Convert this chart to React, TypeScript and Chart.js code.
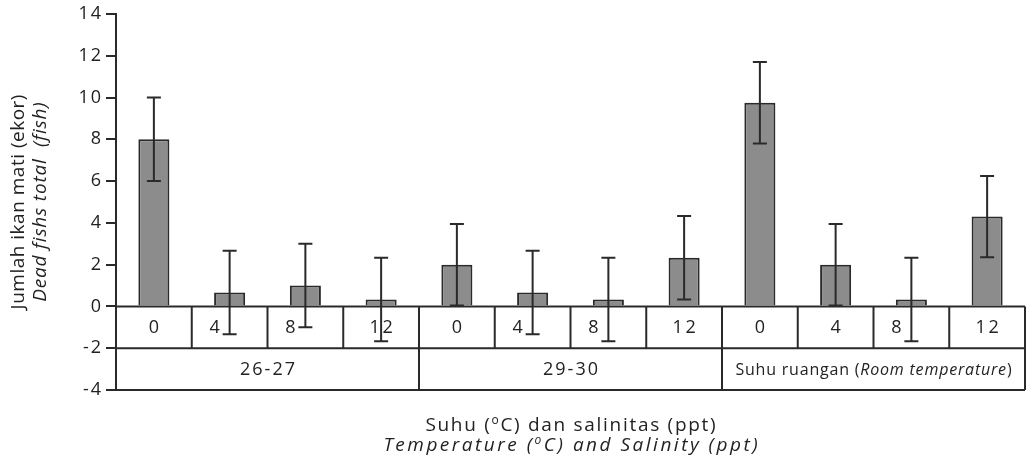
import React, { useEffect, useRef } from "react";
import { Chart, registerables } from "chart.js";

Chart.register(...registerables);

const salinityLabels = ["0", "4", "8", "12", "0", "4", "8", "12", "0", "4", "8", "12"];
const deadFish = [8, 0.67, 1, 0.33, 2, 0.67, 0.33, 2.33, 9.75, 2, 0.33, 4.3];
const errorValues = [2, 2, 2, 2, 1.95, 2, 2, 2, 1.95, 1.95, 2, 1.95];
const yTicks = [-4, -2, 0, 2, 4, 6, 8, 10, 12, 14];
const groupSize = 4;
const groupLabels: { text: string; italic: boolean }[][] = [
  [{ text: "26-27", italic: false }],
  [{ text: "29-30", italic: false }],
  [
    { text: "Suhu ruangan (", italic: false },
    { text: "Room temperature", italic: true },
    { text: ")", italic: false },
  ],
];
const yTitle1 = "Jumlah ikan mati (ekor)";
const yTitle2 = "Dead fishs total  (fish)";

const FONT = "'Open Sans', 'DejaVu Sans', sans-serif";
const INK = "#2a2a2a";
const TEXT = "#222";

type Seg = { text: string; italic?: boolean; sup?: boolean };

function drawRich(
  ctx: CanvasRenderingContext2D,
  segs: Seg[],
  cx: number,
  cy: number,
  size: number,
  spacing: number,
  align: "center" | "right" = "center"
) {
  const fontFor = (s: Seg) =>
    `${s.italic ? "italic " : ""}${s.sup ? Math.round(size * 0.65) : size}px ${FONT}`;
  (ctx as any).letterSpacing = `${spacing}px`;
  let total = 0;
  const widths = segs.map((s) => {
    ctx.font = fontFor(s);
    const w = ctx.measureText(s.text).width;
    total += w;
    return w;
  });
  total -= spacing;
  let x = align === "center" ? cx - total / 2 : cx - total;
  ctx.textAlign = "left";
  ctx.textBaseline = "middle";
  segs.forEach((s, i) => {
    ctx.font = fontFor(s);
    ctx.fillText(s.text, x, s.sup ? cy - size * 0.3 : cy);
    x += widths[i];
  });
  (ctx as any).letterSpacing = "0px";
}

const tablePlugin = {
  id: "tablePlugin",
  afterDatasetsDraw(chart: any) {
    const ctx: CanvasRenderingContext2D = chart.ctx;
    const xs = chart.scales.x;
    const ys = chart.scales.y;
    const { left, right } = chart.chartArea;
    const y0 = ys.getPixelForValue(0);
    const y2 = ys.getPixelForValue(-2);
    const y4 = ys.getPixelForValue(-4);
    const n = deadFish.length;
    const boundary = (i: number) =>
      i <= 0 ? left : i >= n ? right : (xs.getPixelForValue(i - 1) + xs.getPixelForValue(i)) / 2;

    ctx.save();
    ctx.strokeStyle = INK;
    ctx.lineWidth = 2;
    ctx.beginPath();
    [y0, y2, y4].forEach((yy) => {
      ctx.moveTo(left, yy);
      ctx.lineTo(right, yy);
    });
    for (let i = 1; i <= n; i++) {
      const bx = boundary(i);
      ctx.moveTo(bx, y0);
      ctx.lineTo(bx, y2);
    }
    for (let g = 1; g <= n / groupSize; g++) {
      const bx = boundary(g * groupSize);
      ctx.moveTo(bx, y2);
      ctx.lineTo(bx, y4);
    }
    ctx.stroke();

    ctx.fillStyle = TEXT;
    // y tick labels (letter-spaced)
    yTicks.forEach((v) => {
      drawRich(ctx, [{ text: String(v) }], left - 15, ys.getPixelForValue(v), 18, 2, "right");
    });

    // error bars
    const meta = chart.getDatasetMeta(0);
    ctx.beginPath();
    deadFish.forEach((v, i) => {
      const bx = meta.data[i].x;
      const top = ys.getPixelForValue(v + errorValues[i]);
      const bot = ys.getPixelForValue(v - errorValues[i]);
      ctx.moveTo(bx, top);
      ctx.lineTo(bx, bot);
      ctx.moveTo(bx - 7, top);
      ctx.lineTo(bx + 7, top);
      ctx.moveTo(bx - 7, bot);
      ctx.lineTo(bx + 7, bot);
    });
    ctx.stroke();

    // salinity row labels
    const rowMid1 = (y0 + y2) / 2;
    salinityLabels.forEach((lab, i) => {
      const cx = (boundary(i) + boundary(i + 1)) / 2;
      const crosses = deadFish[i] - errorValues[i] < -0.5 && lab.length === 1;
      drawRich(ctx, [{ text: lab }], crosses ? cx - 15 : cx, rowMid1 + 1, 18, 2.5);
    });
    // temperature row labels
    const rowMid2 = (y2 + y4) / 2;
    groupLabels.forEach((segs, g) => {
      const cx = (boundary(g * groupSize) + boundary((g + 1) * groupSize)) / 2;
      if (segs.length > 1) drawRich(ctx, segs, cx, rowMid2 + 1, 16, 0.8);
      else drawRich(ctx, segs, cx, rowMid2 + 1, 18, 2);
    });

    // x axis title
    const cxAll = (left + right) / 2;
    drawRich(
      ctx,
      [{ text: "Suhu (" }, { text: "o", sup: true }, { text: "C) dan salinitas (ppt)" }],
      cxAll,
      426,
      19,
      1.7
    );
    drawRich(
      ctx,
      [
        { text: "Temperature (", italic: true },
        { text: "o", italic: true, sup: true },
        { text: "C) and Salinity (ppt)", italic: true },
      ],
      cxAll,
      446,
      19,
      2.5
    );

    // y axis titles
    const cyMid = (chart.chartArea.top + chart.chartArea.bottom) / 2;
    ctx.save();
    ctx.translate(19, cyMid);
    ctx.rotate(-Math.PI / 2);
    drawRich(ctx, [{ text: yTitle1 }], 0, 0, 19, 0.5);
    ctx.restore();
    ctx.save();
    ctx.translate(41, cyMid);
    ctx.rotate(-Math.PI / 2);
    drawRich(ctx, [{ text: yTitle2, italic: true }], 0, 0, 19, 0.8);
    ctx.restore();
    ctx.restore();
  },
};

export default function App() {
  const ref = useRef<HTMLCanvasElement | null>(null);
  useEffect(() => {
    document.body.style.margin = "0";
    const canvas = ref.current;
    if (!canvas) return;
    const chart = new Chart(canvas, {
      type: "bar",
      data: {
        labels: salinityLabels.map((l, i) => `${l}-${i}`),
        datasets: [
          {
            data: deadFish,
            backgroundColor: "#8c8c8c",
            borderColor: INK,
            borderWidth: 2,
            barPercentage: 0.41,
            categoryPercentage: 1,
          },
        ],
      },
      options: {
        animation: false,
        responsive: false,
        devicePixelRatio: 1,
        layout: { padding: { left: 0, top: 14, right: 3, bottom: 74 } },
        plugins: { legend: { display: false }, tooltip: { enabled: false } },
        scales: {
          x: { display: false, offset: true },
          y: {
            min: yTicks[0],
            max: yTicks[yTicks.length - 1],
            afterBuildTicks: (s: any) => {
              s.ticks = yTicks.map((v) => ({ value: v }));
            },
            afterFit: (s: any) => {
              s.width = 116;
            },
            ticks: {
              display: false,
            },
            grid: {
              drawOnChartArea: false,
              drawTicks: true,
              tickLength: 10,
              color: INK,
              lineWidth: 2,
            },
            border: { display: true, color: INK, width: 2 },
          },
        },
      },
      plugins: [tablePlugin],
    });
    return () => chart.destroy();
  }, []);
  return <canvas ref={ref} width={1028} height={464} style={{ display: "block" }} />;
}
